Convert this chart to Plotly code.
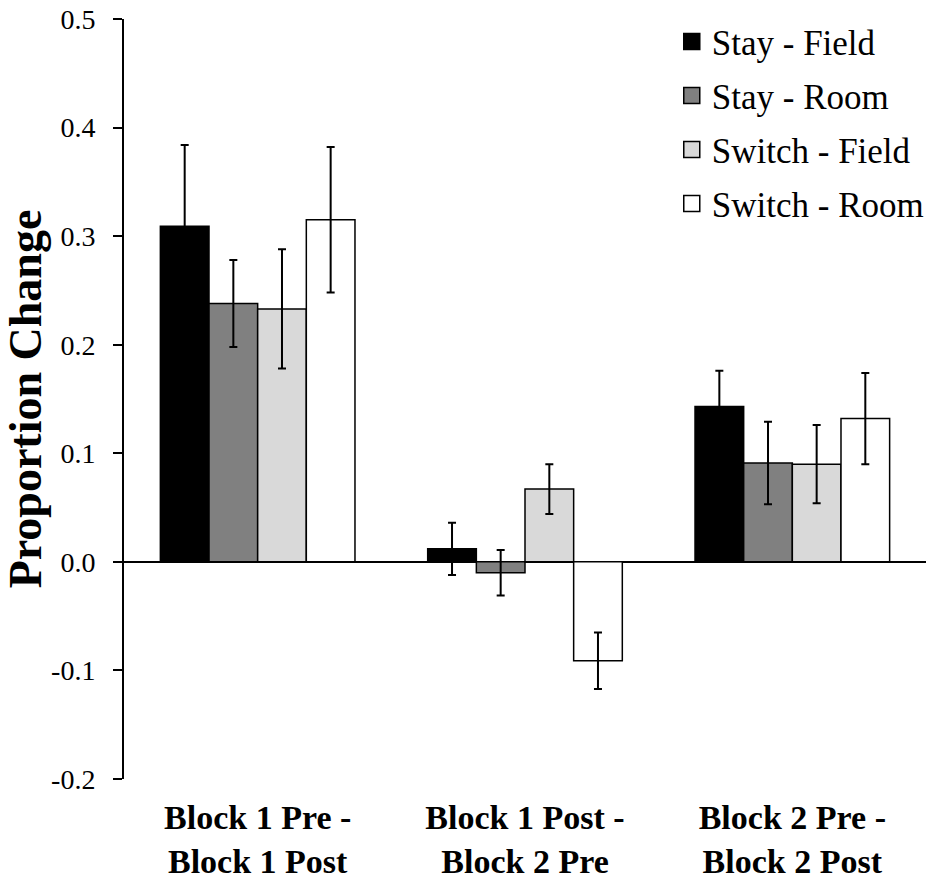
import plotly.graph_objects as go

categories = ["Block 1 Pre -<br>Block 1 Post", "Block 1 Post -<br>Block 2 Pre", "Block 2 Pre -<br>Block 2 Post"]
series_names = ["Stay - Field", "Stay - Room", "Switch - Field", "Switch - Room"]
stay_field = [0.309, 0.012, 0.143]
stay_room = [0.238, -0.010, 0.091]
switch_field = [0.233, 0.067, 0.090]
switch_room = [0.315, -0.091, 0.132]
stay_field_err = [0.075, 0.024, 0.033]
stay_room_err = [0.040, 0.021, 0.038]
switch_field_err = [0.055, 0.023, 0.036]
switch_room_err = [0.067, 0.026, 0.042]
y_ticks = [-0.2, -0.1, 0.0, 0.1, 0.2, 0.3, 0.4, 0.5]

values = [stay_field, stay_room, switch_field, switch_room]
errors = [stay_field_err, stay_room_err, switch_field_err, switch_room_err]
colors = ["#000000", "#808080", "#d9d9d9", "#ffffff"]

FONT = "Liberation Serif"

fig = go.Figure()
for name, vals, errs, col in zip(series_names, values, errors, colors):
    fig.add_trace(go.Bar(
        x=categories, y=vals, name=name, showlegend=False,
        marker=dict(color=col, line=dict(color="#000000", width=1.5)),
        error_y=dict(type="data", array=errs, visible=True, color="#000000",
                     thickness=2, width=4),
    ))
for i, (name, col) in enumerate(zip(series_names, colors)):
    fig.add_trace(go.Scatter(
        x=[None], y=[None], mode="markers", name=name, legendgroup=f"g{i}",
        marker=dict(symbol="square", size=16, color=col,
                    line=dict(color="#000000", width=1.5)),
    ))

fig.update_layout(
    width=929, height=879,
    margin=dict(l=124, r=3, t=19, b=100, autoexpand=False),
    paper_bgcolor="white", plot_bgcolor="white",
    barmode="group", bargap=0.272, bargroupgap=0,
    font=dict(family=FONT, color="#000000"),
    legend=dict(x=0.683, y=1.009, xanchor="left", yanchor="top",
                font=dict(family=FONT, size=35, color="#000000"),
                bgcolor="rgba(0,0,0,0)", tracegroupgap=5.5,
                traceorder="grouped"),
    xaxis=dict(
        type="category", range=[-0.5, 2.5], showline=False, ticks="",
        showgrid=False, zeroline=False, automargin=False,
        tickfont=dict(family=FONT, size=34, color="#000000", weight="bold"),
        ticklabelstandoff=15,
    ),
    yaxis=dict(
        range=[-0.2, 0.5], tickvals=y_ticks, automargin=False,
        ticktext=[f"{v:.1f}" for v in y_ticks],
        showline=True, linecolor="#000000", linewidth=2,
        ticks="outside", ticklen=9, tickwidth=2, tickcolor="#000000",
        showgrid=False,
        zeroline=True, zerolinecolor="#000000", zerolinewidth=2,
        tickfont=dict(family=FONT, size=28, color="#000000"),
        ticklabelstandoff=12,
        title=dict(text="<b>Proportion Change</b>",
                   font=dict(family=FONT, size=46, color="#000000"),
                   standoff=1),
    ),
)

fig.write_html("out.html", config={"displayModeBar": False},
               post_script="document.body.style.margin='0';document.body.style.overflow='hidden';")
